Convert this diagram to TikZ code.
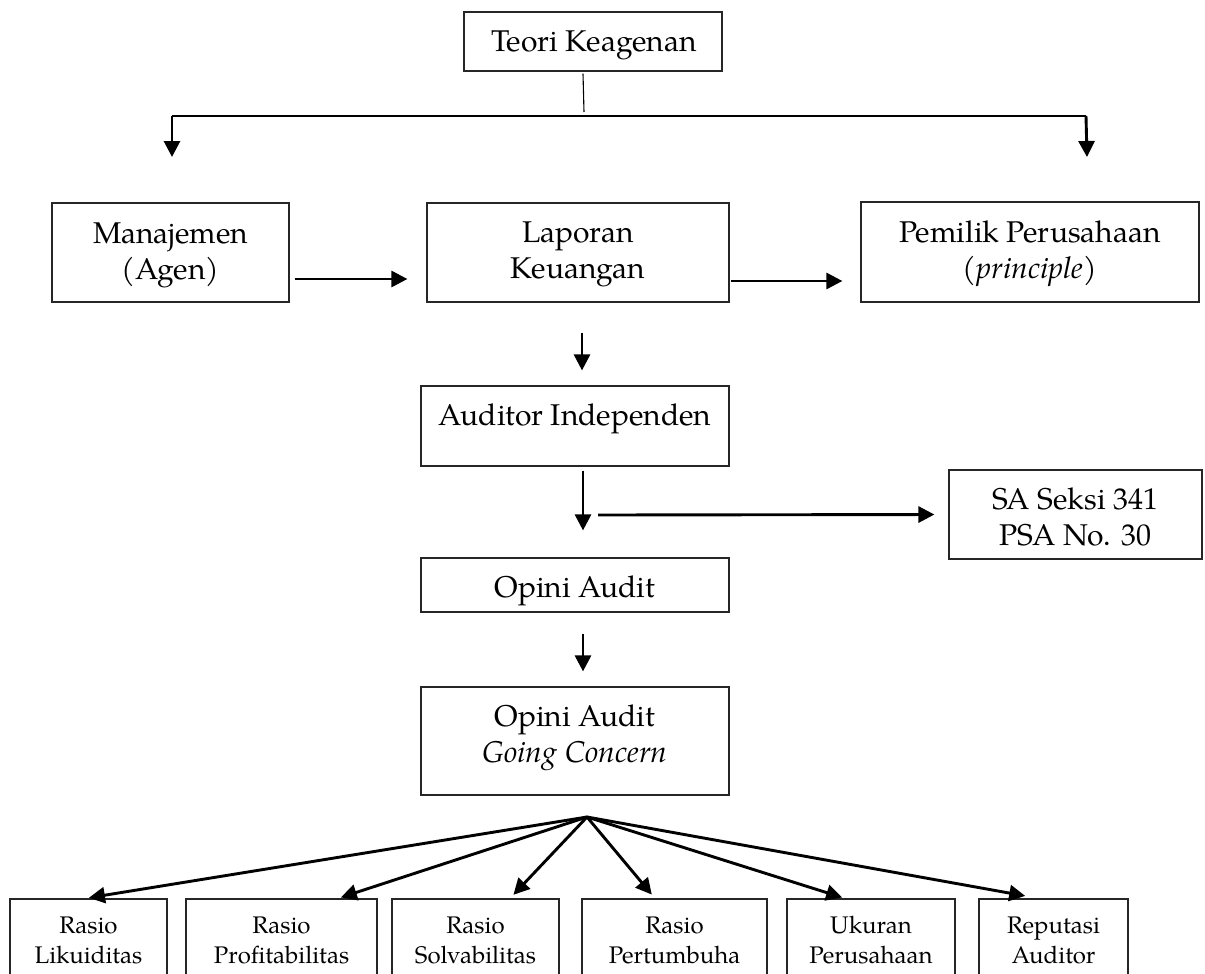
\documentclass[tikz,border=0pt]{standalone}
\usepackage{fontspec}
\setmainfont{TeX Gyre Pagella}
\usetikzlibrary{arrows.meta}
\begin{document}
\begin{tikzpicture}[x=1pt,y=1pt,
  box/.style={draw=black!85, line width=1.2pt, inner sep=0pt},
  big/.style={font=\fontsize{30}{36}\selectfont, inner sep=0pt, anchor=base},
  small/.style={font=\fontsize{24}{30}\selectfont, inner sep=0pt, anchor=base},
  arr/.style={line width=2.9pt, -{Triangle[length=16pt,width=16pt]}},
  bot/.style={box, minimum width=#1, minimum height=91},
]
\useasboundingbox (0,0) rectangle (1205,-974);
\clip (0,0) rectangle (1205,-974);

% top
\node[box, minimum width=258, minimum height=59] (teori) at (593,-41.5) {};
\node[big] (tteori) at (594,-52) {Teori Keagenan};

% row 2
\node[box, minimum width=237, minimum height=99] (man) at (170.5,-252.5) {};
\node[big] (tman) at (170.5,-243) {\begin{tabular}[t]{@{}c@{}}Manajemen\\(Agen)\end{tabular}};
\node[box, minimum width=302, minimum height=99] (lap) at (578,-252.5) {};
\node[big] (tlap) at (578,-242) {\begin{tabular}[t]{@{}c@{}}Laporan\\Keuangan\end{tabular}};
\node[box, minimum width=338, minimum height=100] (pem) at (1030,-252) {};
\node[big] (tpem) at (1030,-242) {\begin{tabular}[t]{@{}c@{}}Pemilik Perusahaan\\(\textit{principle})\end{tabular}};

% middle column
\node[box, minimum width=308, minimum height=80] (aud) at (575,-426) {};
\node[big] (taud) at (575,-425) {Auditor Independen};
\node[box, minimum width=253, minimum height=89] (sa) at (1075.5,-514.5) {};
\node[big] (tsa) at (1075.5,-509) {\begin{tabular}[t]{@{}c@{}}SA Seksi 341\\PSA No. 30\end{tabular}};
\node[box, minimum width=308, minimum height=54] (opini) at (575,-585) {};
\node[big] (topini) at (575,-597) {Opini Audit};
\node[box, minimum width=308, minimum height=108] (gc) at (575,-741) {};
\node[big] (tgc) at (575,-726) {\begin{tabular}[t]{@{}c@{}}Opini Audit\\\textit{Going Concern}\end{tabular}};

% bottom row
\node[bot=157] (b1) at (88.5,-944.5) {};
\node[bot=191] (b2) at (281.5,-944.5) {};
\node[bot=167] (b3) at (475.5,-944.5) {};
\node[bot=185] (b4) at (674.5,-944.5) {};
\node[bot=168] (b5) at (871,-944.5) {};
\node[bot=149] (b6) at (1053.5,-944.5) {};
\node[small] (tb1) at (88.5,-933) {\begin{tabular}[t]{@{}c@{}}Rasio\\Likuiditas\end{tabular}};
\node[small] (tb2) at (281.5,-933) {\begin{tabular}[t]{@{}c@{}}Rasio\\Profitabilitas\end{tabular}};
\node[small] (tb3) at (475.5,-933) {\begin{tabular}[t]{@{}c@{}}Rasio\\Solvabilitas\end{tabular}};
\node[small] (tb4) at (674.5,-933) {\begin{tabular}[t]{@{}c@{}}Rasio\\Pertumbuha\end{tabular}};
\node[small] (tb5) at (871,-933) {\begin{tabular}[t]{@{}c@{}}Ukuran\\Perusahaan\end{tabular}};
\node[small] (tb6) at (1053.5,-933) {\begin{tabular}[t]{@{}c@{}}Reputasi\\Auditor\end{tabular}};

% connectors top
\coordinate (j) at (584,-112);
\coordinate (hl) at (172,-116);
\coordinate (hr) at (1086,-116);
\coordinate (ml) at (172,-157);
\coordinate (pr) at (1087,-157);
\draw[line width=1.1pt] ([xshift=-10pt,yshift=-2pt]teori.south) -- (j);
\draw[line width=1.5pt] (hl) -- (hr);
\draw[arr] (hl) -- (ml);
\draw[arr] (hr) -- (pr);

% row 2 connectors
\draw[arr, shorten <=5pt, shorten >=19pt] ([yshift=-26.5pt]man.east) -- ([yshift=-26.5pt]lap.west);
\draw[arr, shorten <=1pt, shorten >=18pt] ([yshift=-28.5pt]lap.east) -- ([yshift=-29pt]pem.west);
\draw[arr, shorten <=30pt, shorten >=15pt] ([xshift=4pt]lap.south) -- ([xshift=7pt]aud.north);
\draw[arr, shorten <=4pt, shorten >=27pt] ([xshift=8pt]aud.south) -- ([xshift=8pt]opini.north);
\coordinate (sp) at (598,-515);
\draw[arr, shorten >=14pt] (sp) -- (sa.west);
\draw[arr, shorten <=21pt, shorten >=15pt] ([xshift=8pt]opini.south) -- ([xshift=8pt]gc.north);

% fan
\coordinate (fan) at (587,-817);
\draw[arr, shorten >=4pt] (fan) -- ([xshift=-3.5pt]b1.north);
\draw[arr, shorten >=3pt] (fan) -- ([xshift=56.5pt]b2.north);
\draw[arr, shorten >=5pt] (fan) -- ([xshift=34.5pt]b3.north);
\draw[arr, shorten >=5pt] (fan) -- ([xshift=-19.5pt]b4.north);
\draw[arr, shorten >=3pt] (fan) -- ([xshift=-26pt]b5.north);
\draw[arr, shorten >=14pt] (fan) -- ([xshift=-14.5pt]b6.north);
\end{tikzpicture}
\end{document}
